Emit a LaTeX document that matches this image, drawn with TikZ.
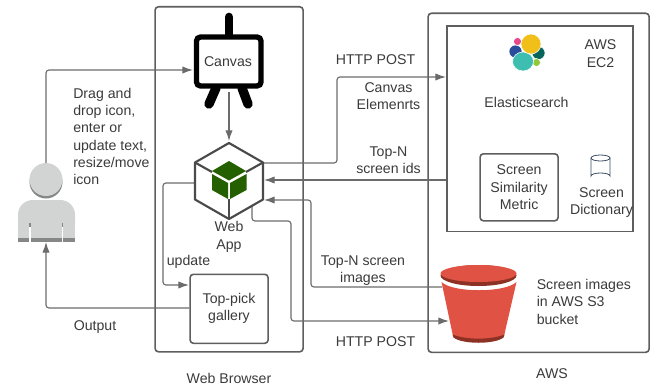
\documentclass[tikz,border=0pt]{standalone}
\usepackage{fontspec}
\setmainfont{Liberation Sans}
\usetikzlibrary{arrows.meta}
\definecolor{linegray}{HTML}{6B6B6B}
\definecolor{boxgray}{HTML}{5E5E5E}
\definecolor{hexgray}{HTML}{4A4A4A}
\definecolor{txt}{HTML}{3A3A3A}
\definecolor{persongray}{HTML}{D2D4D4}
\definecolor{persondark}{HTML}{868888}
\definecolor{cubegreen}{HTML}{246000}
\definecolor{bucketred}{HTML}{E05243}
\definecolor{bucketdark}{HTML}{8C3123}
\definecolor{esy}{HTML}{F0BF1A}
\definecolor{est}{HTML}{3EBEB0}
\definecolor{esg}{HTML}{07665B}
\definecolor{esb}{HTML}{2B4C9B}
\definecolor{esp}{HTML}{E8478B}
\definecolor{esl}{HTML}{8FC93A}
\definecolor{cylblue}{HTML}{3A4A5E}
\tikzset{
  x=0.75pt,y=-0.75pt,
  conn/.style={draw=linegray,line width=0.85pt,rounded corners=2.2pt},
  arr/.style={conn,-{Latex[length=8pt,width=5.5pt]}},
  lbl/.style={text=txt,font=\fontsize{10.6}{13}\selectfont,align=center,inner sep=0pt},
  lbll/.style={lbl,align=left},
  frame/.style={draw=boxgray,line width=1.2pt,rounded corners=2.5pt,inner sep=0pt},
  hexline/.style={draw=hexgray,line width=1.6pt,line join=round},
  blob/.style={draw=white,line width=0.4pt},
}
\begin{document}
\begin{tikzpicture}
\useasboundingbox (0,0) rectangle (652,385);
% containers
\node[frame,minimum width=111pt,minimum height=258.75pt,anchor=north west] (browser) at (154.3,6) {};
\node[frame,minimum width=165.75pt,minimum height=254.25pt,anchor=north west] (aws) at (427.3,12.5) {};
\node[draw=boxgray,line width=1.2pt,inner sep=0pt,minimum width=139.5pt,minimum height=153.75pt,anchor=north west] (ec2) at (446.3,25.5) {};
\node[frame,minimum width=58.5pt,minimum height=50.25pt,anchor=north west] (metric) at (479.3,153) {};
\node[frame,minimum width=58.5pt,minimum height=51.75pt,anchor=north west] (gallery) at (189.3,273.5) {};
% anchors for the icons
\coordinate (canvasBottom) at (229,92);
\coordinate (personTop) at (46,163);
\coordinate (personBottom) at (46,242);
\coordinate (canvasIn) at (193,70);
\coordinate (hexTop) at (229,141);
\coordinate (hexOutR) at (263,163);
\coordinate (hexInR) at (264,180);
\coordinate (hexInR2) at (264,200);
\coordinate (hexOutL) at (195,183);
\coordinate (hexOutB) at (252,205);
\coordinate (ec2In) at (446,77);
\coordinate (ec2Out) at (446,180);
\coordinate (bucketOut) at (442,287);
\coordinate (bucketIn) at (449,321);
\coordinate (galleryIn) at (189,285);
% connectors
\draw[arr] (personTop) -- (46,70) -- (canvasIn);
\draw[arr] (canvasBottom) -- (hexTop);
\draw[arr] (hexOutR) -- (337,163) -- (337,77) -- (ec2In);
\draw[arr] (ec2Out) -- (hexInR);
\draw[arr] (bucketOut) -- (311,287) -- (311,200) -- (hexInR2);
\draw[arr] (hexOutB) -- (252,221) -- (291,221) -- (291,321) -- (bucketIn);
\draw[arr] (hexOutL) -- (163,183) -- (163,285) -- (galleryIn);
\draw[arr] (gallery.west |- 0,308) -- (46,308) -- (personBottom);
% canvas icon
\draw[black,line width=6.5pt,line cap=round] (229,17) -- (229,36);
\draw[black,line width=7pt,line cap=round] (216,88) -- (209,104);
\draw[black,line width=7pt,line cap=round] (242,88) -- (248,104);
\draw[black,line width=4pt,fill=white,rounded corners=3pt] (196.5,37) -- (261,37) -- (261,86) -- (196.5,86) -- cycle;
% web app icon
\draw[hexline] (229,143) -- (263,162.5) -- (263,199.5) -- (229,219) -- (195,199.5) -- (195,162.5) -- cycle;
\draw[hexline] (195,162.5) -- (212,172);
\draw[hexline] (263,162.5) -- (246,172);
\draw[hexline] (229,199) -- (229,219);
\fill[cubegreen] (229,161) -- (246,171) -- (229,180.5) -- (212,171) -- cycle;
\fill[cubegreen] (212,174) -- (228,183) -- (228,199) -- (212,190) -- cycle;
\fill[cubegreen] (246.5,174) -- (230,183) -- (230,199) -- (246.5,190) -- cycle;
% person icon
\fill[persondark] (46,182) circle (16.5);
\fill[persongray] (46,179.5) circle (16.5);
\fill[persongray,rounded corners=11pt] (18,238) -- (18,200) -- (75,200) -- (75,238) -- cycle;
\fill[persongray] (18,225) rectangle (75,238);
\fill[persondark] (18,237.5) rectangle (75,241.5);
\draw[white,line width=1.2pt] (30,227) -- (30,242);
\draw[white,line width=1.2pt] (62.5,227) -- (62.5,242);
\draw[persondark,line width=1.2pt] (30,223) -- (30,227);
\draw[persondark,line width=1.2pt] (62.5,223) -- (62.5,227);
% Elasticsearch logo
\fill[esg,blob] (538.5,53) circle (6.5);
\fill[esb,blob] (515.5,51.5) circle (6.5);
\fill[esp,blob] (517.5,41.5) circle (4);
\fill[esl,blob] (536.5,62.5) circle (4);
\fill[est,blob] (523,61.5) ellipse (10.5 and 9.5);
\fill[esy,blob] (531,44) circle (10);
% cylinder
\draw[draw=cylblue,line width=0.6pt] (591,158) -- (591,176) arc[start angle=180,end angle=360,x radius=9.5,y radius=3] -- (610,158);
\draw[draw=cylblue,line width=0.6pt] (600.5,158) ellipse (9.5 and 3);
% bucket
\fill[bucketred] (441.5,282) -- (453,336) .. controls (465,343) and (492,343) .. (504,336) -- (516.5,282) .. controls (505,293) and (453,293) .. (441.5,282) -- cycle;
\fill[bucketdark] (452.5,334.5) .. controls (466,340) and (491,340) .. (504.5,334.5) -- (503.5,337.5) .. controls (495,344.5) and (462,344.5) .. (453.5,337.5) -- cycle;
\fill[bucketdark] (478.5,275.5) ellipse (38 and 10.5);
\fill[bucketred] (478.5,273.5) ellipse (38 and 8.5);
% labels
\node[lbl] (canvasT) at (228,62) {Canvas};
\node[lbll,anchor=north west] (dragT) at (73,87.5) {Drag and\\drop icon,\\enter or\\update text,\\resize/move\\icon};
\node[lbl] (webT) at (229,237) {Web\\App};
\node[lbl] (updateT) at (188.5,262) {update};
\node[lbl] (galT) at (229,308.5) {Top-pick\\gallery};
\node[lbl] (outT) at (95,327) {Output};
\node[lbl] (wbT) at (229,378.5) {Web Browser};
\node[lbl] (post1T) at (375.5,60) {HTTP POST};
\node[lbl] (elemT) at (388.5,96) {Canvas\\Elemenrts};
\node[lbl] (idsT) at (388.5,160) {Top-N\\screen ids};
\node[lbl] (imgT) at (363,270.5) {Top-N screen\\images};
\node[lbl] (post2T) at (375.5,341.5) {HTTP POST};
\node[lbl] (ec2T) at (600.5,53.5) {AWS\\EC2};
\node[lbl] (esT) at (526.5,102) {Elasticsearch};
\node[lbl] at (metric.center) {Screen\\Similarity\\Metric};
\node[lbl] (dictT) at (601.5,202.5) {Screen\\Dictionary};
\node[lbll,anchor=north west] (s3T) at (536.5,279) {Screen images\\in AWS S3\\bucket};
\node[lbl] (awsT) at (552,374) {AWS};
\end{tikzpicture}
\end{document}
